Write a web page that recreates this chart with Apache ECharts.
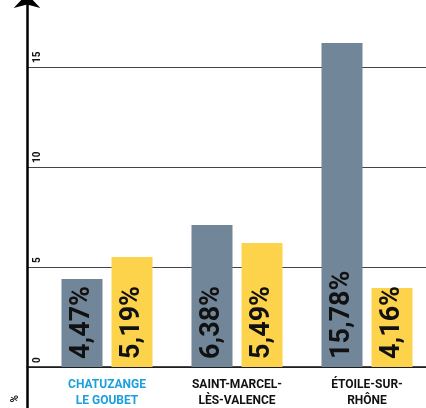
<!DOCTYPE html>
<html>
<head>
<meta charset="utf-8">
<script src="https://cdn.jsdelivr.net/npm/echarts@6/dist/echarts.min.js"></script>
<style>
  html,body{margin:0;padding:0;background:#fff;}
  #chart{width:426px;height:408px;}
</style>
</head>
<body>
<div id="chart"></div>
<script>
// communes
const categories = ['CHATUZANGE\nLE GOUBET', 'SAINT-MARCEL-\nLÈS-VALENCE', 'ÉTOILE-SUR-\nRHÔNE']
// bar heights as drawn in the picture, and the printed labels
const greyValues = [4.4, 7.1, 16.2]
const greyLabels = ['4,47%', '6,38%', '15,78%']
const yellowValues = [5.5, 6.2, 3.95]
const yellowLabels = ['5,19%', '5,49%', '4,16%']
const yTicks = [0, 5, 10, 15]

const font = 'Roboto'
const yMin = -5, yMax = 18.85

const barLabel = (texts) => ({
  show: true,
  position: 'insideBottom',
  distance: 8,
  rotate: 90,
  align: 'left',
  verticalAlign: 'middle',
  fontFamily: font,
  fontWeight: 'bold',
  fontSize: 27,
  color: '#111',
  formatter: (p) => texts[p.dataIndex]
})

const chart = echarts.init(document.getElementById('chart'))
chart.setOption({
  animation: false,
  grid: [
    { left: 27, right: 0, top: -10, bottom: -59, outerBoundsMode: 'none', containLabel: false },
    { left: 42, right: -6, top: -10, bottom: 41, outerBoundsMode: 'none', containLabel: false }
  ],
  xAxis: [
    {
      gridIndex: 0, type: 'value', min: 0, max: 1,
      axisLine: { show: true, onZero: true, lineStyle: { color: '#111', width: 1.5 } },
      axisTick: { show: false }, axisLabel: { show: false }, splitLine: { show: false }
    },
    {
      gridIndex: 1, type: 'category', data: categories,
      axisLine: { show: false },
      axisTick: { show: false },
      axisLabel: {
        margin: 10,
        interval: 0,
        formatter: (v, i) => i === 0 ? '{b|' + v.split('\n').join('}\n{b|') + '}' : '{k|' + v.split('\n').join('}\n{k|') + '}',
        rich: {
          b: { color: '#1aa0dd', fontFamily: font, fontWeight: 'bold', fontSize: 12, lineHeight: 16, align: 'center' },
          k: { color: '#111', fontFamily: font, fontWeight: 'bold', fontSize: 12, lineHeight: 16, align: 'center' }
        }
      }
    }
  ],
  yAxis: [
    {
      gridIndex: 0, type: 'value', min: yMin, max: yMax, interval: 5,
      axisLine: {
        show: true, lineStyle: { color: '#000', width: 2.5 },
        symbol: ['none', 'arrow'], symbolSize: [20, 14], symbolOffset: [0, -4]
      },
      axisTick: { show: false },
      axisLabel: {
        inside: true, rotate: 90, align: 'left', verticalAlign: 'top',
        margin: 5, padding: [0, 0, 0, 4],
        fontFamily: font, fontWeight: 'bold', fontSize: 10, color: '#111',
        formatter: (v) => yTicks.includes(v) ? String(v) : ''
      },
      splitLine: { show: true, lineStyle: { color: '#444', width: 1 } }
    },
    {
      gridIndex: 1, type: 'value', min: 0, max: yMax, show: false
    }
  ],
  graphic: [
    {
      type: 'text', left: 10, top: 395, rotation: Math.PI / 2,
      style: { text: '%', fontFamily: font, fontWeight: 'bold', fontSize: 10, fill: '#111' }
    }
  ],
  series: [
    {
      type: 'bar', xAxisIndex: 1, yAxisIndex: 1, data: greyValues,
      barWidth: 41, barGap: '22%',
      itemStyle: { color: '#728699' },
      label: barLabel(greyLabels)
    },
    {
      type: 'bar', xAxisIndex: 1, yAxisIndex: 1, data: yellowValues,
      barWidth: 41, barGap: '22%',
      itemStyle: { color: '#fed34c' },
      label: barLabel(yellowLabels)
    }
  ]
})
</script>
</body>
</html>
